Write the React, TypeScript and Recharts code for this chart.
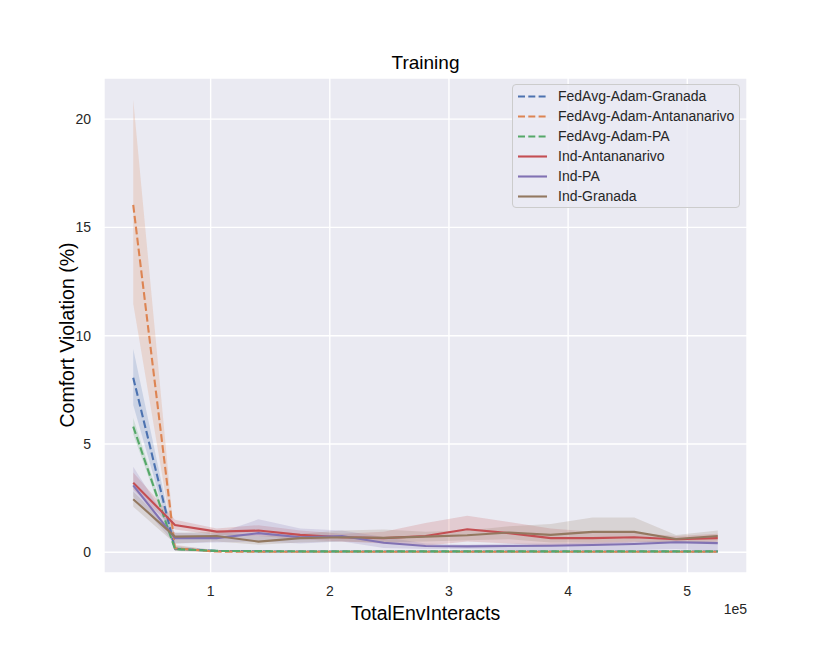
import React from 'react';
import { ComposedChart, Line, Area, XAxis, YAxis, CartesianGrid, Legend } from 'recharts';

const steps = [35040, 70080, 105120, 140160, 175200, 210240, 245280, 280320, 315360, 350400, 385440, 420480, 455520, 490560, 525600];

const fedGranadaMean = [8.06, 0.16, 0.06, 0.04, 0.03, 0.03, 0.03, 0.03, 0.03, 0.03, 0.03, 0.03, 0.03, 0.03, 0.03];
const fedGranadaLo = [6.8, 0.06, 0.02, 0.01, 0.01, 0.01, 0.01, 0.01, 0.01, 0.01, 0.01, 0.01, 0.01, 0.01, 0.01];
const fedGranadaHi = [9.39, 0.3, 0.1, 0.07, 0.06, 0.06, 0.06, 0.06, 0.06, 0.06, 0.06, 0.06, 0.06, 0.06, 0.06];

const fedAntMean = [16.04, 0.18, 0.03, 0.02, 0.02, 0.02, 0.02, 0.02, 0.02, 0.02, 0.02, 0.02, 0.02, 0.02, 0.02];
const fedAntLo = [11.47, 0.06, 0.0, 0.0, 0.0, 0.0, 0.0, 0.0, 0.0, 0.0, 0.0, 0.0, 0.0, 0.0, 0.0];
const fedAntHi = [20.9, 0.35, 0.07, 0.05, 0.05, 0.05, 0.05, 0.05, 0.05, 0.05, 0.05, 0.05, 0.05, 0.05, 0.05];

const fedPAMean = [5.8, 0.14, 0.06, 0.05, 0.04, 0.04, 0.04, 0.04, 0.04, 0.04, 0.04, 0.04, 0.04, 0.04, 0.04];
const fedPALo = [5.45, 0.08, 0.03, 0.02, 0.02, 0.02, 0.02, 0.02, 0.02, 0.02, 0.02, 0.02, 0.02, 0.02, 0.02];
const fedPAHi = [6.2, 0.22, 0.09, 0.08, 0.07, 0.07, 0.07, 0.07, 0.07, 0.07, 0.07, 0.07, 0.07, 0.07, 0.07];

const indAntMean = [3.21, 1.26, 0.95, 1.0, 0.8, 0.69, 0.65, 0.75, 1.06, 0.88, 0.65, 0.65, 0.69, 0.6, 0.65];
const indAntLo = [2.9, 1.05, 0.8, 0.75, 0.6, 0.5, 0.4, 0.3, 0.5, 0.4, 0.3, 0.35, 0.45, 0.45, 0.45];
const indAntHi = [3.68, 1.5, 1.1, 1.25, 1.0, 0.85, 0.95, 1.35, 1.68, 1.4, 1.1, 0.95, 0.9, 0.75, 0.85];

const indPAMean = [3.09, 0.65, 0.65, 0.88, 0.69, 0.75, 0.44, 0.29, 0.27, 0.29, 0.3, 0.33, 0.38, 0.46, 0.42];
const indPALo = [2.57, 0.4, 0.45, 0.5, 0.4, 0.5, 0.2, 0.15, 0.15, 0.1, 0.1, 0.1, 0.1, 0.15, 0.05];
const indPAHi = [3.95, 0.9, 0.85, 1.52, 1.1, 1.0, 0.7, 0.4, 0.35, 0.4, 0.4, 0.45, 0.5, 0.55, 0.5];

const indGranadaMean = [2.45, 0.72, 0.75, 0.49, 0.65, 0.69, 0.66, 0.72, 0.78, 0.91, 0.8, 0.94, 0.94, 0.61, 0.75];
const indGranadaLo = [2.1, 0.4, 0.5, 0.35, 0.45, 0.5, 0.45, 0.5, 0.55, 0.6, 0.45, 0.45, 0.5, 0.45, 0.5];
const indGranadaHi = [2.8, 0.9, 0.95, 0.75, 0.85, 1.0, 1.05, 0.95, 1.0, 1.2, 1.3, 1.6, 1.6, 0.8, 1.0];

const xTicks = [100000, 200000, 300000, 400000, 500000];
const yTicks = [0, 5, 10, 15, 20];

const series = [
  { key: 'fedGranada', name: 'FedAvg-Adam-Granada', color: '#4C72B0', dashed: true, mean: fedGranadaMean, lo: fedGranadaLo, hi: fedGranadaHi },
  { key: 'fedAnt', name: 'FedAvg-Adam-Antananarivo', color: '#DD8452', dashed: true, mean: fedAntMean, lo: fedAntLo, hi: fedAntHi },
  { key: 'fedPA', name: 'FedAvg-Adam-PA', color: '#55A868', dashed: true, mean: fedPAMean, lo: fedPALo, hi: fedPAHi },
  { key: 'indAnt', name: 'Ind-Antananarivo', color: '#C44E52', dashed: false, mean: indAntMean, lo: indAntLo, hi: indAntHi },
  { key: 'indPA', name: 'Ind-PA', color: '#8172B3', dashed: false, mean: indPAMean, lo: indPALo, hi: indPAHi },
  { key: 'indGranada', name: 'Ind-Granada', color: '#937860', dashed: false, mean: indGranadaMean, lo: indGranadaLo, hi: indGranadaHi },
];

const data = steps.map((x, i) => {
  const row: any = { x };
  series.forEach((s) => {
    row[s.key] = s.mean[i];
    row[s.key + 'Band'] = [s.lo[i], s.hi[i]];
  });
  return row;
});

const FONT = '"Liberation Sans", Arial, Helvetica, sans-serif';
const TEXT = '#262626';
const DASH = '7.7 3.3';

const renderLegend = () => (
  <div
    style={{
      width: 228,
      height: 124,
      boxSizing: 'border-box',
      background: 'rgba(234,234,242,0.8)',
      border: '1px solid #CCCCCC',
      borderRadius: 4,
      paddingTop: 1,
      fontFamily: FONT,
      fontSize: 14,
      color: TEXT,
    }}
  >
    {series.map((s) => (
      <div key={s.key} style={{ display: 'flex', alignItems: 'center', height: 20, lineHeight: '20px', whiteSpace: 'nowrap' }}>
        <svg width={45} height={20} style={{ display: 'block' }}>
          <line
            x1={5}
            x2={34}
            y1={10.5}
            y2={10.5}
            stroke={s.color}
            strokeWidth={2.1}
            strokeDasharray={s.dashed ? '7 3.3' : undefined}
          />
        </svg>
        <span>{s.name}</span>
      </div>
    ))}
  </div>
);

export default function App() {
  return (
    <div style={{ position: 'absolute', left: 0, top: 0, width: 830, height: 646, background: '#fff' }}>
      <ComposedChart width={830} height={646} data={data} margin={{ top: 78, right: 83, bottom: 0, left: 0 }}>
        <CartesianGrid fill="#EAEAF2" fillOpacity={1} stroke="#FFFFFF" strokeWidth={1.4} />
        <XAxis
          type="number"
          dataKey="x"
          domain={[10512, 550128]}
          allowDataOverflow
          ticks={xTicks}
          tickFormatter={(v: number) => String(v / 100000)}
          axisLine={false}
          tickLine={false}
          tickSize={0}
          tickMargin={13.5}
          height={73}
          tick={{ fill: TEXT, fontSize: 14, fontFamily: FONT }}
        />
        <YAxis
          type="number"
          domain={[-0.96, 21.9]}
          allowDataOverflow
          ticks={yTicks}
          axisLine={false}
          tickLine={false}
          tickSize={0}
          tickMargin={13}
          width={104}
          tick={{ fill: TEXT, fontSize: 14, fontFamily: FONT }}
        />
        {series.map((s) => (
          <Area
            key={s.key + 'Band'}
            type="linear"
            dataKey={s.key + 'Band'}
            stroke="none"
            fill={s.color}
            fillOpacity={0.2}
            isAnimationActive={false}
            dot={false}
            activeDot={false}
            legendType="none"
          />
        ))}
        {series.map((s) => (
          <Line
            key={s.key}
            type="linear"
            dataKey={s.key}
            name={s.name}
            stroke={s.color}
            strokeWidth={2.1}
            strokeDasharray={s.dashed ? DASH : undefined}
            dot={false}
            activeDot={false}
            isAnimationActive={false}
          />
        ))}
        <Legend
          layout="vertical"
          align="center"
          verticalAlign="middle"
          content={renderLegend}
          wrapperStyle={{ position: 'absolute', left: 512, top: 84, width: 228, height: 124 }}
        />
      </ComposedChart>
      <svg width={830} height={646} style={{ position: 'absolute', left: 0, top: 0, pointerEvents: 'none' }}>
        <text x={425.5} y={69} textAnchor="middle" fontFamily={FONT} fontSize={19} fill="#000">Training</text>
        <text x={425.5} y={620} textAnchor="middle" fontFamily={FONT} fontSize={19.5} fill="#000">TotalEnvInteracts</text>
        <text x={747} y={614} textAnchor="end" fontFamily={FONT} fontSize={14} fill={TEXT}>1e5</text>
        <text
          x={0}
          y={0}
          transform="translate(74, 335) rotate(-90)"
          textAnchor="middle"
          fontFamily={FONT}
          fontSize={19.5}
          fill="#000"
        >
          Comfort Violation (%)
        </text>
      </svg>
    </div>
  );
}
